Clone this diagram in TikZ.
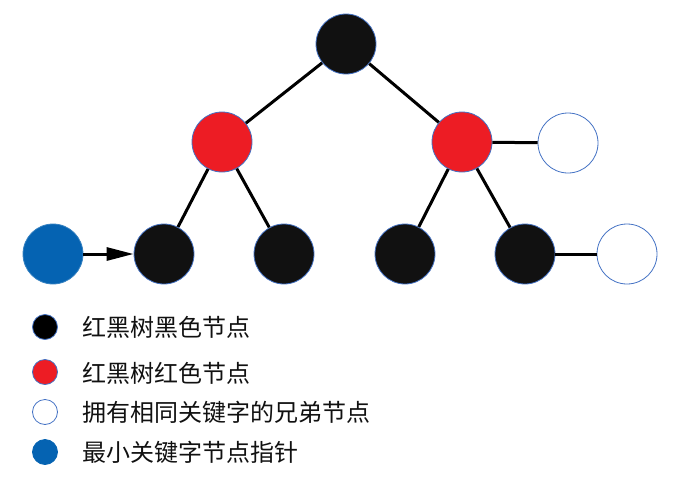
\documentclass[tikz,border=0pt]{standalone}
\usepackage{fontspec}
\newfontfamily\cjk{Noto Sans CJK SC}
\usetikzlibrary{arrows.meta}
\definecolor{nodeblack}{HTML}{111111}
\definecolor{nodered}{HTML}{ED1C24}
\definecolor{nodeblue}{HTML}{0563B2}
\definecolor{rimblue}{HTML}{4472C4}
\begin{document}
\begin{tikzpicture}[x=1pt,y=-1pt,
  rb/.style={circle,minimum size=60pt,inner sep=0pt,draw=rimblue,line width=0.8pt},
  blacknode/.style={rb,fill=nodeblack},
  rednode/.style={rb,fill=nodered},
  twinnode/.style={rb,fill=white},
  ptrnode/.style={rb,fill=nodeblue,draw=nodeblue!80!white},
  link/.style={line width=3pt,black},
  keydot/.style={circle,minimum size=25pt,inner sep=0pt,draw=rimblue,line width=0.8pt},
  keytext/.style={anchor=west,inner sep=0pt,font=\cjk\fontsize{24}{26}\selectfont,text=nodeblack}]
\useasboundingbox (0,0) rectangle (680,490);
% tree nodes
\node[blacknode] (root) at (346,44) {};
\node[rednode] (rl) at (222,142) {};
\node[rednode] (rr) at (462,142) {};
\node[twinnode] (tw1) at (568,143) {};
\node[blacknode] (b1) at (164,254) {};
\node[blacknode] (b2) at (284,254) {};
\node[blacknode] (b3) at (405,254) {};
\node[blacknode] (b4) at (525,254) {};
\node[twinnode] (tw2) at (627,254) {};
\node[ptrnode] (ptr) at (53,254) {};
% tree links
\draw[link] (root) -- (rl);
\draw[link] (root) -- (rr);
\draw[link] (rl) -- (b1);
\draw[link] (rl) -- (b2);
\draw[link] (rr) -- (b3);
\draw[link] (rr) -- (b4);
\draw[link] (rr) -- (tw1);
\draw[link] (b4) -- (tw2);
\draw[link,-{Triangle[length=27pt,width=13pt]}] (ptr) -- (b1);
% legend
\node[keydot,fill=black] (k1) at (45,327) {};
\node[keydot,fill=nodered] (k2) at (45,372) {};
\node[keydot,fill=white] (k3) at (45,412) {};
\node[keydot,fill=nodeblue,draw=nodeblue] (k4) at (45,452) {};
\node[keytext] (t1) at (82,327) {红黑树黑色节点};
\node[keytext] (t2) at (82,373) {红黑树红色节点};
\node[keytext] (t3) at (82,412) {拥有相同关键字的兄弟节点};
\node[keytext] (t4) at (82,452) {最小关键字节点指针};
\end{tikzpicture}
\end{document}
